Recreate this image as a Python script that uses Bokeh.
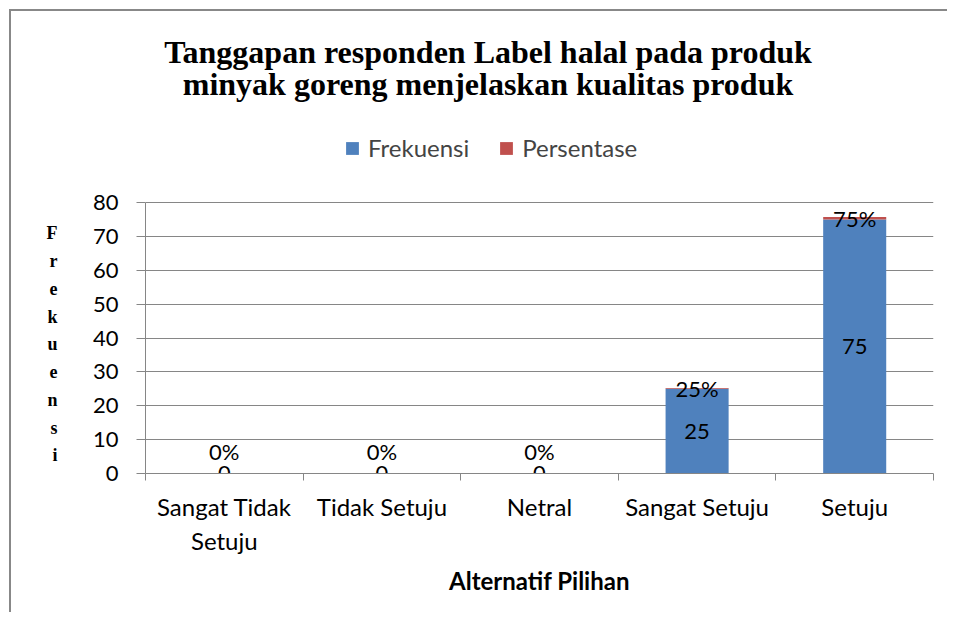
from bokeh.plotting import figure
from bokeh.models import (ColumnDataSource, Range1d, FixedTicker, Legend, LegendItem,
                          LinearAxis, Label)
from bokeh.core.properties import value
from bokeh.embed import file_html
from bokeh.resources import INLINE

# ---- data ----
categories = ["Sangat Tidak\nSetuju", "Tidak Setuju", "Netral", "Sangat Setuju", "Setuju"]
frekuensi = [0, 0, 0, 25, 75]
persentase = [0, 0, 0, 0.25, 0.75]
frek_labels = ["0", "0", "0", "25", "75"]
pct_labels = ["0%", "0%", "0%", "25%", "75%"]
y_ticks = [0, 10, 20, 30, 40, 50, 60, 70, 80]
title_line1 = "Tanggapan responden Label halal pada produk"
title_line2 = "minyak goreng menjelaskan kualitas produk"
y_label_text = "Frekuensi"
x_label_text = "Alternatif Pilihan"

BLUE = "#4F81BD"
RED = "#C0504D"
GRID = "#868686"
SANS = "Lato"
SERIF = "Liberation Serif"

xs = [i + 0.5 for i in range(len(categories))]
src = ColumnDataSource(dict(
    x=xs,
    frek=frekuensi,
    pct=persentase,
    top2=[f + q for f, q in zip(frekuensi, persentase)],
    frek_mid=[f / 2 for f in frekuensi],
    pct_mid=[f + q / 2 for f, q in zip(frekuensi, persentase)],
    frek_lab=frek_labels,
    pct_lab=pct_labels,
    pct_yoff=[-22 if f == 0 else 0 for f in frekuensi],
))

# The frame reaches the top of the canvas so that title and legend are drawn
# inside it; the value axis itself is bounded to 0..80.
W, H = 947, 612
FRAME_H = 473              # px from canvas top to the value 0 line
PX_PER_UNIT = 271 / 80     # 0..80 spans 271 px
y_top = max(y_ticks) + (FRAME_H - 271) / PX_PER_UNIT

p = figure(width=W, height=H, output_backend="svg", toolbar_location=None,
           x_range=Range1d(0, len(categories)), y_range=Range1d(0, y_top),
           min_border_left=145, min_border_right=14, min_border_top=0,
           min_border_bottom=H - FRAME_H)
p.outline_line_color = None
p.background_fill_alpha = 0
p.border_fill_alpha = 0
# outer chart border (left and top edges, as in the reference)
p.styles = {
    "background-color": "white",
    "background-image": "linear-gradient(#888888, #888888), linear-gradient(#888888, #888888)",
    "background-repeat": "no-repeat",
    "background-size": "2px 100%, 100% 2px",
    "background-position": "9px 9px, 9px 9px",
}

# bars
r1 = p.vbar(x="x", bottom=0, top="frek", width=0.4, source=src,
            fill_color=BLUE, line_color=None)
r2 = p.vbar(x="x", bottom="frek", top="top2", width=0.4, source=src,
            fill_color=RED, line_color=None)

# data labels
p.text(x="x", y="frek_mid", text="frek_lab", source=src, text_align="center",
       text_baseline="middle", text_font=value(SANS), text_font_size="22px",
       text_color="black")
p.text(x="x", y="pct_mid", text="pct_lab", source=src, text_align="center",
       text_baseline="middle", text_font=value(SANS), text_font_size="22px",
       text_color="black", y_offset="pct_yoff")

# y axis
p.yaxis.ticker = FixedTicker(ticks=y_ticks)
p.yaxis.bounds = (min(y_ticks), max(y_ticks))
p.yaxis.axis_line_color = GRID
p.yaxis.major_tick_line_color = GRID
p.yaxis.major_tick_out = 9
p.yaxis.major_tick_in = 0
p.yaxis.minor_tick_line_color = None
p.yaxis.major_label_standoff = 18
p.yaxis.major_label_text_font = SANS
p.yaxis.major_label_text_font_size = "22px"
p.yaxis.major_label_text_color = "black"

# stacked upright letters of the y-axis title, as a label-only axis
letters = list(y_label_text)
p.extra_y_ranges = {"ylab": Range1d(-0.649, 16.396)}
lab_ticks = [len(letters) - 1 - k for k in range(len(letters))]
ylab_axis = LinearAxis(y_range_name="ylab", ticker=FixedTicker(ticks=lab_ticks),
                       major_label_overrides={t: c for t, c in zip(lab_ticks, letters)},
                       axis_line_color=None, major_tick_line_color=None,
                       minor_tick_line_color=None, major_label_standoff=26,
                       major_label_text_font=SERIF, major_label_text_font_style="bold",
                       major_label_text_font_size="18px", major_label_text_color="black")
p.add_layout(ylab_axis, "left")

# x axis: labels at category centres, ticks at category boundaries
p.xaxis.ticker = FixedTicker(ticks=xs, minor_ticks=list(range(len(categories) + 1)))
p.xaxis.major_label_overrides = {x: c for x, c in zip(xs, categories)}
p.xaxis.axis_line_color = GRID
p.xaxis.major_tick_line_color = None
p.xaxis.minor_tick_line_color = GRID
p.xaxis.minor_tick_out = 7
p.xaxis.minor_tick_in = 0
p.xaxis.major_label_standoff = 11
p.xaxis.major_label_text_font = SANS
p.xaxis.major_label_text_font_size = "24px"
p.xaxis.major_label_text_color = "black"
p.xaxis.axis_label = x_label_text
p.xaxis.axis_label_text_font = SANS
p.xaxis.axis_label_text_font_style = "bold"
p.xaxis.axis_label_text_font_size = "24px"
p.xaxis.axis_label_text_color = "black"
p.xaxis.axis_label_standoff = 8

p.xgrid.grid_line_color = None
p.ygrid.ticker = FixedTicker(ticks=y_ticks)
p.ygrid.grid_line_color = GRID

# legend
legend = Legend(items=[LegendItem(label="Frekuensi", renderers=[r1]),
                       LegendItem(label="Persentase", renderers=[r2])],
                location=(199, 311), orientation="horizontal",
                padding=0, margin=0, spacing=29, label_standoff=8,
                glyph_width=16, glyph_height=16,
                label_text_font=SANS, label_text_font_size="24px",
                border_line_color=None, background_fill_alpha=0)
p.add_layout(legend)

# title (two centred lines)
for txt, base in [(title_line1, 51.7), (title_line2, 83.3)]:
    p.add_layout(Label(x=342.5, y=FRAME_H - base, x_units="screen", y_units="screen",
                       text=txt, text_align="center", text_baseline="alphabetic",
                       text_font=SERIF, text_font_style="bold", text_font_size="32px",
                       text_color="black"))

open("out.html", "w").write(file_html(p, INLINE))
